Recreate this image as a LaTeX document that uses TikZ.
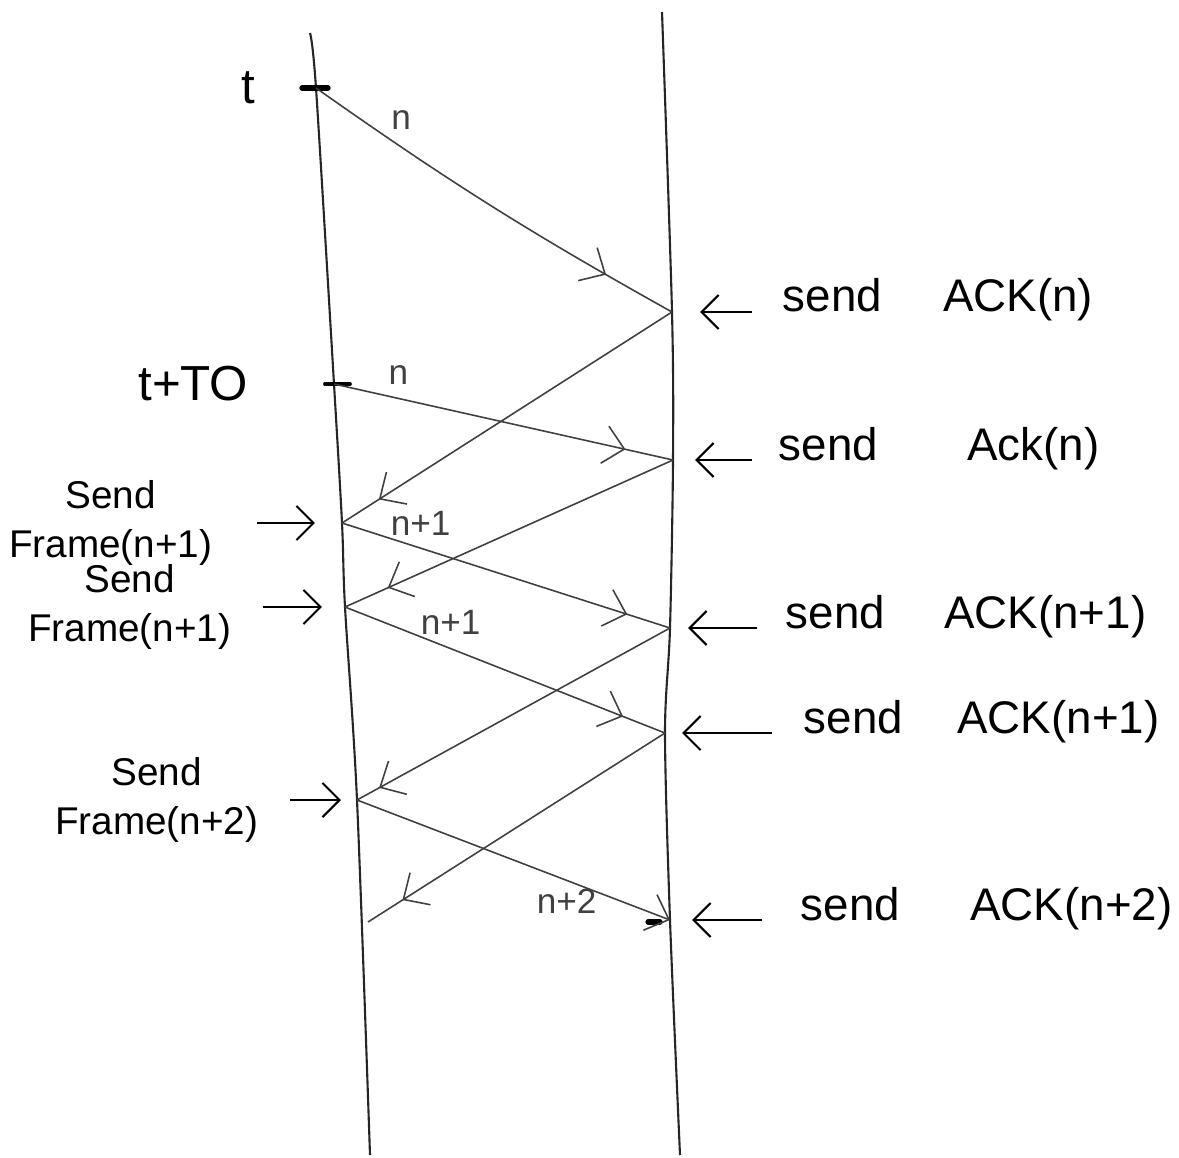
\documentclass[tikz,border=0pt]{standalone}
\usepackage{fontspec}
\setmainfont{Liberation Sans}
\usetikzlibrary{positioning, arrows.meta, decorations.markings}

\begin{document}
\begin{tikzpicture}[
    x=0.01cm, y=-0.01cm,
    node distance=1cm,
    timeline/.style={line width=0.6pt, black!85},
    msg/.style={
        line width=0.45pt, black!75,
        postaction={decorate},
        decoration={markings,
            mark=at position #1 with {\arrow{Straight Barb[length=2mm, width=3.8mm]}}}
    },
    msgend/.style={line width=0.45pt, black!75, -{Straight Barb[length=2mm, width=3.8mm]}},
    tickmark/.style={line width=1.5pt, line cap=round},
    sidearrow/.style={line width=0.6pt, -{Straight Barb[length=1.7mm, width=3.4mm]}},
    lbl/.style={inner sep=0pt, font=\fontsize{13}{15}\selectfont},
    sidelbl/.style={inner sep=0pt, align=center, font=\fontsize{11}{14}\selectfont},
    timelbl/.style={inner sep=0pt, font=\fontsize{14}{16}\selectfont},
    msglbl/.style={inner sep=1pt, font=\fontsize{10}{12}\selectfont}
]
\useasboundingbox (0,0) rectangle (1179,1158);

% --- time lines ---
\coordinate (ltop) at (310,33);
\coordinate (lbot) at (370,1155);
\coordinate (rtop) at (662,12);
\coordinate (rbot) at (680,1155);

% --- events sender ---
\coordinate (t0) at (316,88);
\coordinate (tTO) at (334,384);
\coordinate (l1) at (342,523);
\coordinate (l2) at (345,607);
\coordinate (l3) at (357,800);
\coordinate (ackend) at (368,922);

% --- events receiver ---
\coordinate (r1) at (672,312);
\coordinate (r2) at (673,460);
\coordinate (r3) at (670,628);
\coordinate (r4) at (665,733);
\coordinate (r5) at (670,920);

\draw[timeline] plot[smooth, tension=0.5] coordinates {(ltop) (t0) (tTO) (l1) (l2) (l3) (lbot)};
\draw[timeline] plot[smooth, tension=0.5] coordinates {(rtop) (r1) (r2) (r3) (r4) (r5) (rbot)};

% --- ticks ---
\draw[tickmark] ([xshift=-0.14cm]t0) -- ([xshift=0.12cm]t0);
\draw[tickmark, line width=1.1pt] ([xshift=-0.09cm]tTO) -- ([xshift=0.16cm]tTO);
\draw[tickmark] ([xshift=-0.22cm, yshift=-0.02cm]r5) -- ([xshift=-0.1cm, yshift=-0.02cm]r5);

% --- frames and acks ---
\draw[msg=0.82] (t0) to[bend right=3] node[msglbl, pos=0.23, above=0.13cm] {n} (r1);
\draw[msg=0.89] (r1) -- (l1);
\draw[msg=0.86] (tTO) -- node[msglbl, pos=0.19, above=0.1cm] {n} (r2);
\draw[msg=0.87] (r2) -- (l2);
\draw[msg=0.87] (l1) -- node[msglbl, pos=0.24, above=0.08cm] {n+1} (r3);
\draw[msg=0.87] (l2) -- node[msglbl, pos=0.33, above=0.1cm] {n+1} (r4);
\draw[msg=0.93] (r3) -- (l3);
\draw[msg=0.885] (r4) -- (ackend);
\draw[msgend] (l3) -- node[msglbl, pos=0.67, below=0.04cm] {n+2} (r5);

% --- sender labels ---
\node[timelbl, left=0.6cm of t0] (tlbl) {t};
\node[timelbl, left=0.85cm of tTO] (tTOlbl) {t+TO};

\node[sidelbl, left=1.29cm of l1] (fr1) {Send\\Frame(n+1)};
\node[sidelbl, left=1.13cm of l2] (fr2) {Send\\Frame(n+1)};
\node[sidelbl, left=0.98cm of l3] (fr3) {Send\\Frame(n+2)};

\draw[sidearrow, shorten <=0.44cm, shorten >=0.27cm] (fr1.east |- l1) -- (l1);
\draw[sidearrow, shorten <=0.31cm, shorten >=0.23cm] (fr2.east |- l2) -- (l2);
\draw[sidearrow, shorten <=0.31cm, shorten >=0.16cm] (fr3.east |- l3) -- (l3);

% --- receiver labels ---
\node[lbl, right=1.1cm of r1, anchor=base west] (snd1) {send};
\node[lbl, base right=0.6cm of snd1] (ack1) {ACK(n)};
\node[lbl, right=1.05cm of r2, anchor=base west] (snd2) {send};
\node[lbl, base right=0.88cm of snd2] (ack2) {Ack(n)};
\node[lbl, right=1.15cm of r3, anchor=base west] (snd3) {send};
\node[lbl, base right=0.58cm of snd3] (ack3) {ACK(n+1)};
\node[lbl, right=1.38cm of r4, anchor=base west] (snd4) {send};
\node[lbl, base right=0.53cm of snd4] (ack4) {ACK(n+1)};
\node[lbl, right=1.3cm of r5, anchor=base west] (snd5) {send};
\node[lbl, base right=0.69cm of snd5] (ack5) {ACK(n+2)};

\draw[sidearrow, shorten <=0.3cm, shorten >=0.28cm] (snd1.west |- r1) -- (r1);
\draw[sidearrow, shorten <=0.26cm, shorten >=0.22cm] (snd2.west |- r2) -- (r2);
\draw[sidearrow, shorten <=0.28cm, shorten >=0.18cm] (snd3.west |- r3) -- (r3);
\draw[sidearrow, shorten <=0.31cm, shorten >=0.17cm] (snd4.west |- r4) -- (r4);
\draw[sidearrow, shorten <=0.38cm, shorten >=0.22cm] (snd5.west |- r5) -- (r5);

\end{tikzpicture}
\end{document}
